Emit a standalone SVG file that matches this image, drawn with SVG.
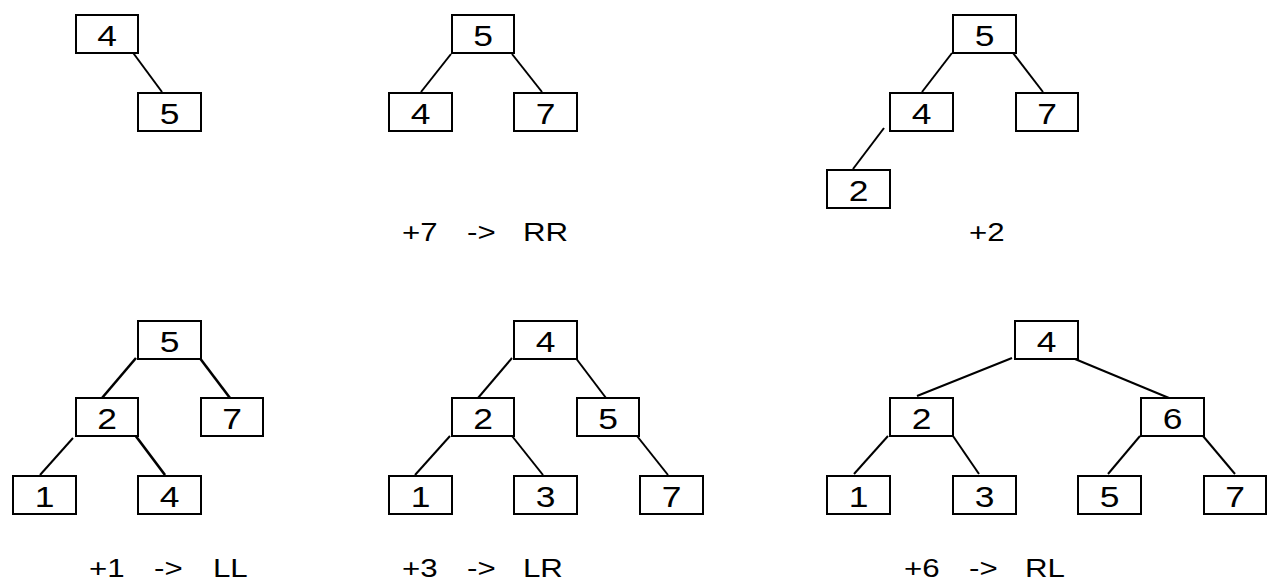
<svg xmlns="http://www.w3.org/2000/svg" width="1270" height="583" viewBox="0 0 1270 583">
  <style>
    .box rect { fill: #fff; stroke: #000; stroke-width: 2; }
    .box text { font-family: "Liberation Sans", Arial, sans-serif; font-size: 30px; fill: #000; text-anchor: middle;
                transform-box: fill-box; transform-origin: center; transform: scaleX(1.18); }
    .edges line { stroke: #000; stroke-width: 2; }
    .edges line.thick { stroke-width: 2.6; }
    .label { font-family: "Liberation Sans", Arial, sans-serif; font-size: 25px; fill: #000; }
  </style>
  <rect width="1270" height="583" fill="#fff"/>

  <!-- edges -->
  <g id="edges" class="edges">
    <!-- tree A -->
    <line x1="131" y1="50" x2="162" y2="92"/>
    <!-- tree B -->
    <line x1="451" y1="54" x2="421" y2="92"/>
    <line x1="512" y1="54" x2="542" y2="92"/>
    <!-- tree C -->
    <line x1="952" y1="53" x2="922" y2="92"/>
    <line x1="1013" y1="53" x2="1043" y2="92"/>
    <line x1="884" y1="128" x2="853" y2="169"/>
    <!-- tree D -->
    <line class="thick" x1="136" y1="358" x2="102" y2="398"/>
    <line class="thick" x1="199" y1="357" x2="230" y2="398"/>
    <line x1="73" y1="438" x2="40" y2="475"/>
    <line class="thick" x1="135" y1="435" x2="165" y2="475"/>
    <!-- tree E -->
    <line x1="512" y1="358" x2="478" y2="398"/>
    <line x1="575" y1="357" x2="606" y2="398"/>
    <line x1="450" y1="436" x2="415" y2="475"/>
    <line x1="512" y1="436" x2="543" y2="475"/>
    <line x1="637" y1="436" x2="668" y2="475"/>
    <!-- tree F -->
    <line x1="1012" y1="358" x2="917" y2="396"/>
    <line x1="1075" y1="359" x2="1169" y2="398"/>
    <line x1="888" y1="436" x2="854" y2="474"/>
    <line x1="953" y1="436" x2="979" y2="474"/>
    <line x1="1140" y1="436" x2="1108" y2="474"/>
    <line x1="1203" y1="436" x2="1235" y2="474"/>
  </g>

  <!-- tree A -->
  <g id="a4" class="box"><rect x="76" y="15" width="62" height="38"/><text x="107" y="46">4</text></g>
  <g id="a5" class="box"><rect x="138" y="93" width="63" height="38"/><text x="169.5" y="124">5</text></g>

  <!-- tree B -->
  <g id="b5" class="box"><rect x="452" y="15" width="62" height="38"/><text x="483" y="46">5</text></g>
  <g id="b4" class="box"><rect x="389" y="93" width="63" height="38"/><text x="420.5" y="124">4</text></g>
  <g id="b7" class="box"><rect x="514" y="93" width="63" height="38"/><text x="545.5" y="124">7</text></g>

  <!-- tree C -->
  <g id="c5" class="box"><rect x="953" y="15" width="63" height="38"/><text x="984.5" y="46">5</text></g>
  <g id="c4" class="box"><rect x="890" y="93" width="63" height="38"/><text x="921.5" y="124">4</text></g>
  <g id="c7" class="box"><rect x="1016" y="93" width="62" height="38"/><text x="1047" y="124">7</text></g>
  <g id="c2" class="box"><rect x="827" y="170" width="63" height="38"/><text x="858.5" y="201">2</text></g>

  <!-- tree D -->
  <g id="d5" class="box"><rect x="138" y="321" width="63" height="38"/><text x="169.5" y="352">5</text></g>
  <g id="d2" class="box"><rect x="76" y="398" width="62" height="38"/><text x="107" y="429">2</text></g>
  <g id="d7" class="box"><rect x="201" y="398" width="62" height="38"/><text x="232" y="429">7</text></g>
  <g id="d1" class="box"><rect x="13" y="476" width="63" height="38"/><text x="44.5" y="507">1</text></g>
  <g id="d4" class="box"><rect x="138" y="476" width="63" height="38"/><text x="169.5" y="507">4</text></g>

  <!-- tree E -->
  <g id="e4" class="box"><rect x="514" y="321" width="63" height="38"/><text x="545.5" y="352">4</text></g>
  <g id="e2" class="box"><rect x="452" y="398" width="62" height="38"/><text x="483" y="429">2</text></g>
  <g id="e5" class="box"><rect x="577" y="398" width="62" height="38"/><text x="608" y="429">5</text></g>
  <g id="e1" class="box"><rect x="389" y="476" width="63" height="38"/><text x="420.5" y="507">1</text></g>
  <g id="e3" class="box"><rect x="514" y="476" width="63" height="38"/><text x="545.5" y="507">3</text></g>
  <g id="e7" class="box"><rect x="640" y="476" width="63" height="38"/><text x="671.5" y="507">7</text></g>

  <!-- tree F -->
  <g id="f4" class="box"><rect x="1015" y="321" width="63" height="38"/><text x="1046.5" y="352">4</text></g>
  <g id="f2" class="box"><rect x="890" y="398" width="63" height="38"/><text x="921.5" y="429">2</text></g>
  <g id="f6" class="box"><rect x="1141" y="398" width="63" height="38"/><text x="1172.5" y="429">6</text></g>
  <g id="f1" class="box"><rect x="827" y="476" width="63" height="38"/><text x="858.5" y="507">1</text></g>
  <g id="f3" class="box"><rect x="953" y="476" width="63" height="38"/><text x="984.5" y="507">3</text></g>
  <g id="f5" class="box"><rect x="1078" y="476" width="63" height="38"/><text x="1109.5" y="507">5</text></g>
  <g id="f7" class="box"><rect x="1204" y="476" width="62" height="38"/><text x="1235" y="507">7</text></g>

  <!-- captions (glyphs widened horizontally) -->
  <text class="label" transform="translate(402 241) scale(1.25 1)"><tspan x="0">+7</tspan><tspan x="52">-&gt;</tspan><tspan x="96.8">RR</tspan></text>
  <text class="label" transform="translate(969 241) scale(1.25 1)">+2</text>
  <text class="label" transform="translate(89 577) scale(1.25 1)"><tspan x="0">+1</tspan><tspan x="52">-&gt;</tspan><tspan x="99.2">LL</tspan></text>
  <text class="label" transform="translate(402 577) scale(1.25 1)"><tspan x="0">+3</tspan><tspan x="52">-&gt;</tspan><tspan x="96.8">LR</tspan></text>
  <text class="label" transform="translate(904 577) scale(1.25 1)"><tspan x="0">+6</tspan><tspan x="52">-&gt;</tspan><tspan x="96.8">RL</tspan></text>
</svg>
